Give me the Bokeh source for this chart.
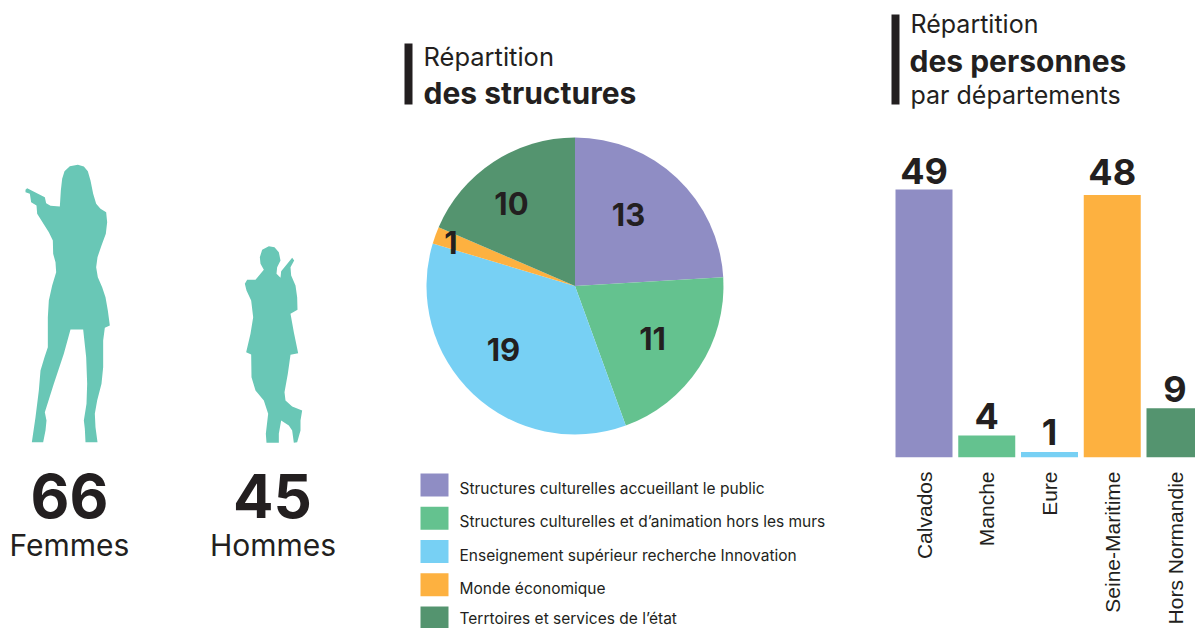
from math import pi
from bokeh.plotting import figure
from bokeh.layouts import row
from bokeh.models import Range1d, LinearAxis, FixedTicker
from bokeh.core.properties import value
from bokeh.embed import file_html
from bokeh.resources import INLINE

# ---- data ----
people_values = [66, 45]
people_labels = ["Femmes", "Hommes"]

structure_labels = ["Structures culturelles accueillant le public",
                    "Structures culturelles et d’animation hors les murs",
                    "Enseignement supérieur recherche Innovation",
                    "Monde économique",
                    "Terrtoires et services de l’état"]
structure_values = [13, 11, 19, 1, 10]

departments = ["Calvados", "Manche", "Eure", "Seine-Maritime", "Hors Normandie"]
department_values = [49, 4, 1, 48, 9]

colors = ["#8f8dc4", "#64c28f", "#77d0f4", "#fdb140", "#54946f"]
INK = "#231f20"
TEAL = "#69c7b6"

# ---- silhouette outlines (zoom-crop coordinates: 3x, origin at 0,150) ----
woman = [(75,118),(80,113),(133,140),(137,158),(150,166),(178,168),(181,120),(185,85),(192,62),(208,47),
         (232,43),(250,48),(262,62),(270,90),(278,130),(287,160),(300,175),(317,185),(320,215),(316,250),
         (303,285),(291,320),(287,350),(292,380),(305,410),(315,440),(322,480),(328,525),(313,532),(308,570),
         (308,650),(303,700),(290,750),(283,790),(285,830),(291,875),(255,875),(253,835),(250,810),(258,760),
         (260,700),(257,620),(248,537),(210,537),(190,610),(160,700),(133,785),(138,810),(135,840),(128,875),
         (94,875),(105,800),(115,720),(120,660),(132,620),(142,590),(142,500),(145,450),(155,405),(167,365),
         (165,335),(158,310),(157,270),(145,245),(110,190),(108,165),(92,155),(88,130),(75,125)]
man = [(778,320),(785,298),(805,287),(822,290),(835,305),(840,330),(830,350),(828,370),(840,382),(842,362),
       (875,322),(881,330),(870,350),(872,375),(885,405),(890,440),(891,478),(870,490),(880,545),(893,608),
       (870,613),(862,670),(852,725),(855,750),(875,768),(905,780),(900,810),(900,840),(890,875),(880,877),
       (875,840),(865,825),(842,810),(835,850),(835,877),(798,877),(796,850),(803,790),(790,750),(765,720),
       (753,680),(752,612),(737,605),(750,550),(758,500),(752,450),(738,420),(733,400),(740,388),(765,388),
       (790,358),(780,340)]

# ---- layout (page pixels) ----
W, H = 1195, 628
LEFT, SPLIT, TOP = 0, 880, 0
BASE_Y = 457
PX_PER_UNIT = 268 / 49
BAR_X0, BAR_STEP = 923.5, 62.75

def Y(py):
    return H - py

def BL(py, size):
    # the alphabetic baseline renders lower than asked, by a share of the font size
    return H - (py - 0.38 * size)

BODY = "Inter"
AXIS_FONT = "Liberation Sans"

# ---- main figure: silhouettes, pie, legend ----
m = figure(width=SPLIT - LEFT, height=H - TOP, x_range=Range1d(LEFT, SPLIT), y_range=Range1d(0, H - TOP),
           output_backend="svg", toolbar_location=None, min_border=0, outline_line_color=None,
           x_axis_type=None, y_axis_type=None, frame_align=False)
m.grid.visible = False

for shape in (woman, man):
    m.patch([x / 3 for x, _ in shape], [Y(y / 3 + 150) for _, y in shape], fill_color=TEAL, line_color=None)

m.text([69, 272], [BL(518, 60)] * 2, text=[str(v) for v in people_values], text_font=value(BODY),
       text_font_style="bold", text_font_size="60px", text_color=INK, text_align="center", text_baseline="alphabetic")
m.text([69, 272.5], [BL(556, 30)] * 2, text=people_labels, text_font=value(BODY), text_font_size="30px",
       text_color=INK, text_align="center", text_baseline="alphabetic")

# pie
total = sum(structure_values)
starts, ends, acc = [], [], 0
for v in structure_values:
    starts.append(pi / 2 - 2 * pi * (acc + v) / total)
    ends.append(pi / 2 - 2 * pi * acc / total)
    acc += v
m.wedge(x=[574.5] * 5, y=[Y(285.5)] * 5, radius=148.5, start_angle=starts, end_angle=ends,
        fill_color=colors, line_color=None)
label_x = [628, 652, 503, 450.5, 511]
label_y = [214, 338, 349, 242, 203]
m.text(label_x, [Y(y) for y in label_y], text=[str(v) for v in structure_values], text_font=value(BODY),
       text_font_style="bold", text_font_size="31px", text_color=INK, text_align="center", text_baseline="middle")

# pie title
m.quad(left=[404], right=[412], top=[Y(43)], bottom=[Y(104)], fill_color=INK, line_color=None)
m.text([423], [BL(66, 25.5)], text=["Répartition"], text_font=value(BODY), text_font_size="25.5px", text_color=INK,
       text_baseline="alphabetic")
m.text([423], [BL(104, 30)], text=["des structures"], text_font=value(BODY), text_font_style="bold",
       text_font_size="30px", text_color=INK, text_baseline="alphabetic")

# legend
sw_top = [473 + 33.25 * i for i in range(5)]
m.quad(left=[420] * 5, right=[448] * 5, top=[Y(t) for t in sw_top], bottom=[Y(t + 23) for t in sw_top],
       fill_color=colors, line_color=None)
m.text([459] * 5, [Y(min(t + 15, 618)) for t in sw_top], text=structure_labels, text_font=value(BODY),
       text_font_size="15.5px", text_color=INK, text_baseline="middle")

# ---- bar figure ----
xs = list(range(len(departments)))
b = figure(width=W - SPLIT, height=H - TOP,
           x_range=Range1d((SPLIT - BAR_X0) / BAR_STEP, (W - BAR_X0) / BAR_STEP),
           y_range=Range1d(0, (BASE_Y - TOP) / PX_PER_UNIT),
           output_backend="svg", toolbar_location=None, min_border=0, min_border_bottom=H - BASE_Y,
           outline_line_color=None, x_axis_type=None, y_axis_type=None, frame_align=False)
b.grid.visible = False
b.extra_x_ranges["px"] = Range1d(SPLIT, W)
b.extra_y_ranges["px"] = Range1d(Y(BASE_Y), Y(TOP))

axis = LinearAxis(ticker=FixedTicker(ticks=xs), major_label_overrides=dict(zip(xs, departments)),
                  major_label_orientation=pi / 2, axis_line_color=None, major_tick_line_color=None,
                  minor_tick_line_color=None, major_label_standoff=8, major_label_text_color=INK,
                  major_label_text_font=AXIS_FONT, major_label_text_font_size="21px")
b.add_layout(axis, "below")

b.vbar(x=xs, top=department_values, width=57 / BAR_STEP, bottom=0, fill_color=colors, line_color=None)
label_gap = [4.5, 5.5, 6, 9, 6]
b.text(xs, department_values, text=[str(v) for v in department_values], text_font=value(BODY),
       text_font_style="bold", text_font_size="36px", text_color=INK, text_align="center",
       text_baseline="alphabetic", y_offset=[-g - 0.38 * 36 for g in label_gap])

b.quad(left=[891], right=[899], top=[Y(14)], bottom=[Y(104)], fill_color=INK, line_color=None,
       x_range_name="px", y_range_name="px")
b.text([910], [BL(33, 25)], text=["Répartition"], text_font=value(BODY), text_font_size="25px", text_color=INK,
       text_baseline="alphabetic", x_range_name="px", y_range_name="px")
b.text([909], [BL(72, 30)], text=["des personnes"], text_font=value(BODY), text_font_style="bold",
       text_font_size="30px", text_color=INK, text_baseline="alphabetic", x_range_name="px", y_range_name="px")
b.text([910], [BL(104, 25)], text=["par départements"], text_font=value(BODY), text_font_size="25px", text_color=INK,
       text_baseline="alphabetic", x_range_name="px", y_range_name="px")

page = row(m, b, spacing=0)
open("out.html", "w").write(file_html(page, INLINE))
